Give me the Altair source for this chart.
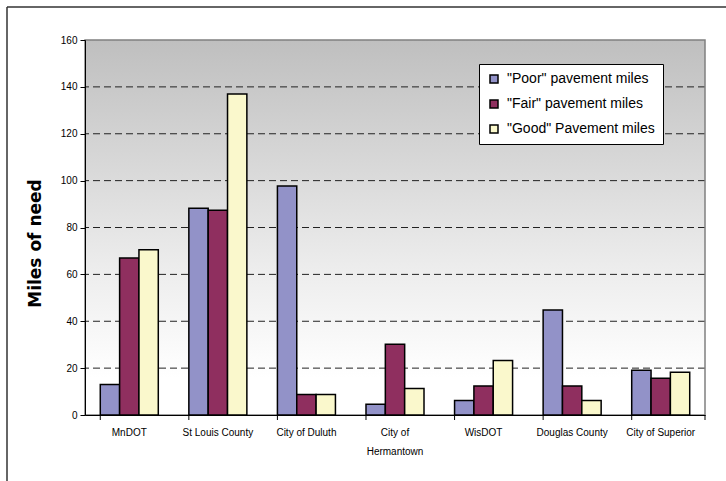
import altair as alt
import pandas as pd

categories = ["MnDOT", "St Louis County", "City of Duluth", "City of Hermantown",
              "WisDOT", "Douglas County", "City of Superior"]
series = ['"Poor" pavement miles', '"Fair" pavement miles', '"Good" Pavement miles']
poor = [13, 88.2, 97.7, 4.6, 6.2, 44.8, 19.1]
fair = [67, 87.4, 8.8, 30.2, 12.4, 12.4, 15.7]
good = [70.5, 137, 8.8, 11.3, 23.3, 6.2, 18.2]
colors = ["#9292C8", "#8F2F5F", "#FAF8CC"]
grid_values = [20, 40, 60, 80, 100, 120, 140]
y_ticks = [0, 20, 40, 60, 80, 100, 120, 140, 160]

rows = []
for i, c in enumerate(categories):
    for s, vals in zip(series, [poor, fair, good]):
        rows.append({"cat": c, "series": s, "value": vals[i]})
df = pd.DataFrame(rows)
cat_df = pd.DataFrame({"cat": categories})
grid_df = pd.DataFrame({"value": grid_values})
one = pd.DataFrame({"a": [0]})

W, H = 620, 375

xscale = alt.Scale(domain=categories, paddingInner=0.345, paddingOuter=0.1725)
yscale = alt.Scale(domain=[0, 160], nice=False)

x_axis = alt.Axis(ticks=False, labelPadding=12, labelAngle=0,
                  labelFont="Liberation Sans", labelFontSize=10, labelColor="black",
                  labelLineHeight=19, domainColor="black", domainWidth=1, zindex=1,
                  labelExpr="datum.value == 'City of Hermantown' ? ['City of', 'Hermantown'] : datum.value")
y_axis = alt.Axis(values=y_ticks, grid=False, tickSize=5, labelPadding=3,
                  labelFont="Liberation Sans", labelFontSize=10, labelColor="black",
                  tickColor="black", domainColor="black", zindex=1,
                  titleFont="DejaVu Sans", titleFontSize=17, titleFontWeight="bold",
                  titleColor="black", titleAngle=-90, titleX=-50, titleY=203,
                  titleAlign="center", titleBaseline="middle")

bg = alt.Chart(one).mark_rect(
    color=alt.Gradient(gradient="linear", x1=0, x2=0, y1=0, y2=1,
                       stops=[alt.GradientStop(offset=0, color="#BFBFBF"),
                              alt.GradientStop(offset=0.6, color="#ECECEC"),
                              alt.GradientStop(offset=0.9, color="#FFFFFF"),
                              alt.GradientStop(offset=1, color="#FFFFFF")])
).encode(x=alt.value(0), x2=alt.value(W), y=alt.value(0), y2=alt.value(H))

grid = alt.Chart(grid_df).mark_rule(color="#222222", strokeWidth=1, strokeDash=[7, 4]).encode(
    y=alt.Y("value:Q", scale=yscale, title="Miles of need", axis=y_axis)
)

bars = alt.Chart(df).mark_bar(stroke="black", strokeWidth=1.5).encode(
    x=alt.X("cat:N", scale=xscale, sort=categories, title=None, axis=x_axis),
    xOffset=alt.XOffset("series:N", sort=series, scale=alt.Scale(domain=series, paddingInner=0, paddingOuter=0)),
    y=alt.Y("value:Q", scale=yscale, title="Miles of need", axis=y_axis),
    color=alt.Color("series:N", sort=series,
                    scale=alt.Scale(domain=series, range=colors),
                    legend=alt.Legend(orient="none", legendX=394, legendY=24, title=None,
                                      fillColor="white", strokeColor="black", padding=8,
                                      symbolType="square", symbolSize=64,
                                      symbolStrokeColor="black", symbolStrokeWidth=1.5,
                                      labelFont="Liberation Sans", labelFontSize=14,
                                      labelColor="black", rowPadding=11, labelOffset=6,
                                      labelLimit=300)),
)

cat_ticks = alt.Chart(cat_df).mark_rule(color="black", strokeWidth=1).encode(
    x=alt.X("cat:N", scale=xscale, sort=categories, bandPosition=0, title=None, axis=x_axis),
    y=alt.value(H), y2=alt.value(H + 5)
)
end_tick = alt.Chart(one).mark_rule(color="black", strokeWidth=1).encode(
    x=alt.value(W), y=alt.value(H), y2=alt.value(H + 5)
)

border = alt.Chart(one).mark_rect(fill=None, stroke="#808080", strokeWidth=1.5).encode(
    x=alt.value(0), x2=alt.value(W), y=alt.value(0), y2=alt.value(H)
)

outer_top = alt.Chart(one).mark_rule(color="#333333", strokeWidth=1.5).encode(
    x=alt.value(-78), x2=alt.value(W + 30), y=alt.value(-33)
)
outer_left = alt.Chart(one).mark_rule(color="#333333", strokeWidth=1.5).encode(
    x=alt.value(-78), y=alt.value(-33), y2=alt.value(H + 80)
)

chart = alt.layer(bg, grid, border, bars, cat_ticks, end_tick, outer_top, outer_left).properties(
    width=W, height=H,
    padding={"left": 85, "top": 40, "right": 21, "bottom": 66},
    autosize=alt.AutoSizeParams(type="none"),
    background="white",
).configure_view(stroke=None)

chart.save("out.html", embed_options={"renderer": "svg", "actions": False})
